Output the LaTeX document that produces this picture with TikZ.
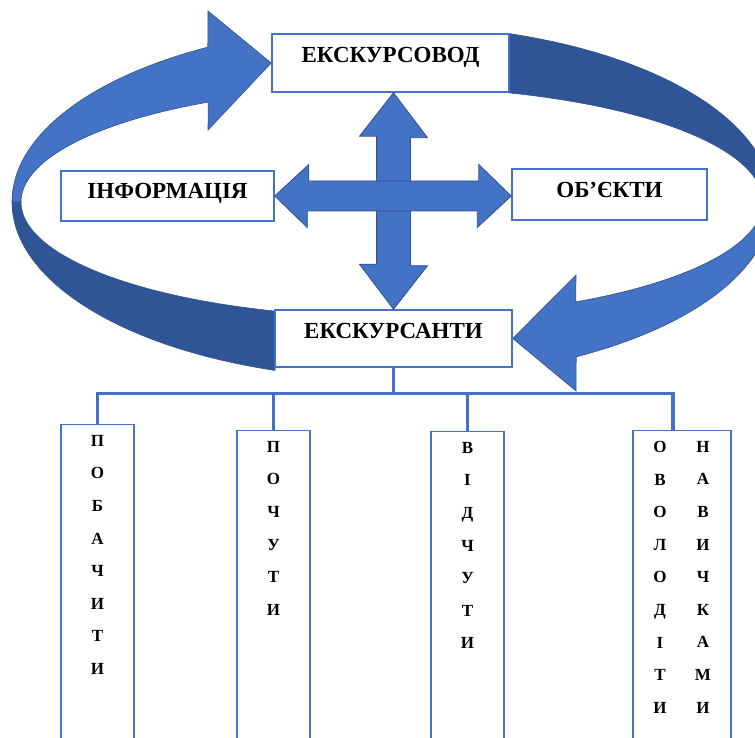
\documentclass[tikz,border=0pt]{standalone}
\usepackage{fontspec}
\setmainfont{Liberation Serif}
\usetikzlibrary{positioning,backgrounds}

\definecolor{frontblue}{HTML}{4472C4}
\definecolor{backblue}{HTML}{2F5597}
\definecolor{edgeblue}{HTML}{2F528F}

\tikzset{
  box/.style={draw=frontblue, line width=1.5pt, fill=white, inner sep=0pt,
    font=\fontsize{23}{26}\selectfont\bfseries},
  column/.style={draw=frontblue, line width=1.5pt, fill=white, inner sep=0pt,
    minimum height=340pt, anchor=north},
  letters/.style={inner sep=0pt, align=center,
    font=\fontsize{17}{32.6}\selectfont\bfseries},
  tree/.style={draw=frontblue, line width=3.5pt},
  band/.style={fill=frontblue, draw=edgeblue, line width=0.6pt},
  backband/.style={fill=backblue, draw=edgeblue, line width=0.6pt},
  crossarrow/.style={fill=frontblue, draw=edgeblue, line width=0.8pt}
}

\begin{document}
\begin{tikzpicture}[x=1pt,y=1pt]
  \useasboundingbox (0,0) rectangle (755,738);
  \clip (0,0) rectangle (755,738);

  % boxes
  \node[box, minimum width=237pt, text height=29pt, text depth=29pt] (guide) at (390.5,675) {ЕКСКУРСОВОД};
  \node[box, minimum width=213pt, text height=28pt, text depth=22pt] (info) at (167.5,542) {ІНФОРМАЦІЯ};
  \node[box, minimum width=195pt, text height=29pt, text depth=22pt] (objects) at (609.5,543.5) {ОБ’ЄКТИ};
  \node[box, minimum width=237pt, text height=29pt, text depth=28pt] (tourists) at (393.5,399.5) {ЕКСКУРСАНТИ};

  % ring behind the boxes
  \begin{scope}[on background layer, shift={(392,536)}]
    \filldraw[backband] (180:380 and 177) arc[start angle=180, end angle=252.07, x radius=380, y radius=177]
      -- (251.62:371 and 115) arc[start angle=251.62, end angle=180, x radius=371, y radius=115] -- cycle;
    \filldraw[backband] (72.07:380 and 177) arc[start angle=72.07, end angle=0, x radius=380, y radius=177]
      -- (0:371 and 115) arc[start angle=0, end angle=71.62, x radius=371, y radius=115] -- cycle;
    \filldraw[band] (180:380 and 177) arc[start angle=180, end angle=119, x radius=380, y radius=177]
      -- (-184,191) -- (guide.west) -- (-184,72)
      -- (119.7:371 and 115) arc[start angle=119.7, end angle=180, x radius=371, y radius=115] -- cycle;
    \filldraw[band] (0:380 and 177) arc[start angle=0, end angle=-61, x radius=380, y radius=177]
      -- (184,-189) -- (tourists.east) -- (184,-73)
      -- (-60.3:371 and 115) arc[start angle=-60.3, end angle=0, x radius=371, y radius=115] -- cycle;
  \end{scope}

  % cross
  \filldraw[crossarrow] (guide.south -| tourists.north) -- ++(34,-45) -- ++(-17,0) -- ++(0,-128) -- ++(17,0)
    -- (tourists.north) -- ++(-34,45) -- ++(17,0) -- ++(0,128) -- ++(-17,0) -- cycle;
  \filldraw[crossarrow] (info.east) -- ++(34,31.5) -- ++(0,-16.5) -- ++(170,0) -- ++(0,16.5)
    -- (objects.west |- info.east) -- ++(-34,-31.5) -- ++(0,16.5) -- ++(-170,0) -- ++(0,-16.5) -- cycle;

  % columns
  \node[column, minimum width=73pt] (see) at (97.5,314) {};
  \node[column, minimum width=73pt] (hear) at (273.5,308) {};
  \node[column, minimum width=73pt] (feel) at (467.5,307) {};
  \node[column, minimum width=98pt] (skills) at (682,308) {};

  \node[letters, below=11pt of see.north] (seetxt) {П\\О\\Б\\А\\Ч\\И\\Т\\И};
  \node[letters, below=11pt of hear.north] (heartxt) {П\\О\\Ч\\У\\Т\\И};
  \node[letters, below=11pt of feel.north] (feeltxt) {В\\І\\Д\\Ч\\У\\Т\\И};
  \node[letters, below=11pt of skills.north, xshift=-22pt] (mastertxt) {О\\В\\О\\Л\\О\\Д\\І\\Т\\И};
  \node[letters, below=11pt of skills.north, xshift=21pt] (skilltxt) {Н\\А\\В\\И\\Ч\\К\\А\\М\\И};

  % tree
  \draw[tree] (tourists.south) -- ++(0,-26) coordinate (bus);
  \draw[tree] (bus) -| (see.north);
  \draw[tree] (bus) -| (hear.north);
  \draw[tree] (bus) -| (feel.north);
  \draw[tree] (bus) -| ([xshift=-9pt]skills.north);
\end{tikzpicture}
\end{document}
